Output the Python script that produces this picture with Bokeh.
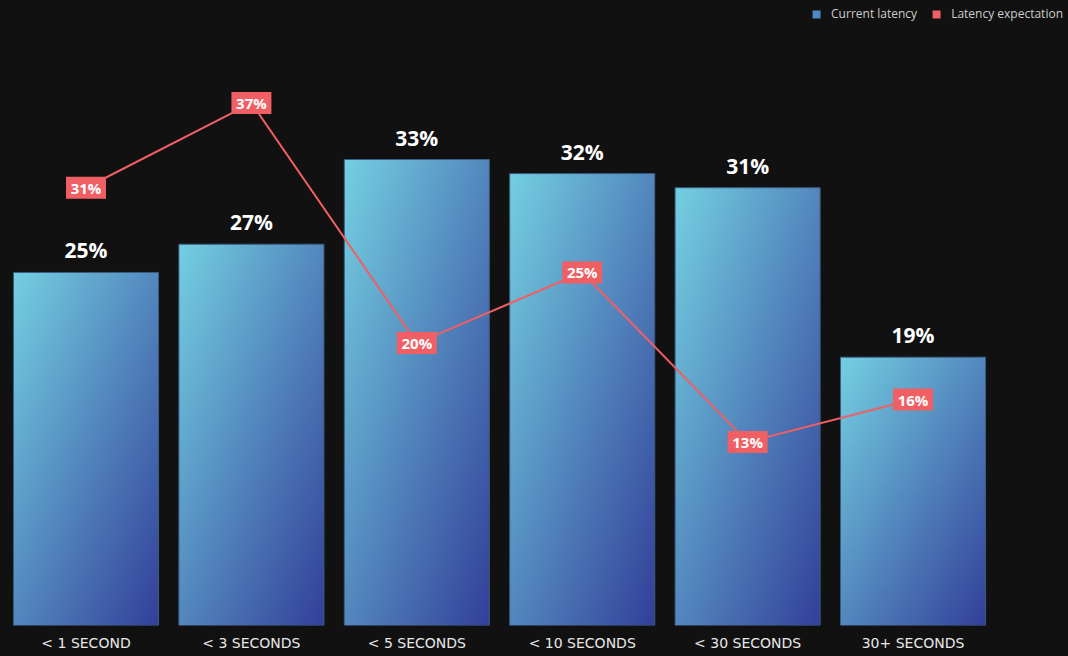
import numpy as np
from bokeh.plotting import figure
from bokeh.models import Range1d, FixedTicker, Legend, LegendItem
from bokeh.core.properties import value
from bokeh.embed import file_html
from bokeh.resources import INLINE

# ---- data ----
categories = ["< 1 SECOND", "< 3 SECONDS", "< 5 SECONDS", "< 10 SECONDS", "< 30 SECONDS", "30+ SECONDS"]
current_latency = [25, 27, 33, 32, 31, 19]
latency_expectation = [31, 37, 20, 25, 13, 16]
legend_labels = ["Current latency", "Latency expectation"]

# ---- style ----
BG = "#111111"
RED = "#ef5f63"
grad_start = (0x74, 0xD0, 0xE2)
grad_end = (0x33, 0x40, 0x9A)
FONT = value("Open Sans")

n = len(categories)
xs = list(range(n))
bar_w = 0.877

p = figure(width=1068, height=656, output_backend="svg", toolbar_location=None,
           x_range=Range1d(-0.517, 5.94), y_range=Range1d(0, 44.26),
           y_axis_location=None, min_border_left=0, min_border_right=0,
           min_border_top=0, min_border_bottom=31)
p.background_fill_color = BG
p.border_fill_color = BG
p.outline_line_color = None
p.xgrid.grid_line_color = None
p.ygrid.grid_line_color = None

# gradient image for bars (diagonal, top-left light -> bottom-right dark)
H, W = 240, 120
u = np.linspace(0, 1, W)[None, :]
v = np.linspace(1, 0, H)[:, None]
t = (u + v) / 2.0
img = np.empty((H, W), dtype=np.uint32)
view = img.view(dtype=np.uint8).reshape((H, W, 4))
for c in range(3):
    view[:, :, c] = np.clip(grad_start[c] + (grad_end[c] - grad_start[c]) * t, 0, 255).astype(np.uint8)
view[:, :, 3] = 255

p.image_rgba(image=[img] * n, x=[x - bar_w / 2 for x in xs], y=[0] * n,
             dw=[bar_w] * n, dh=current_latency)
p.quad(left=[x - bar_w / 2 for x in xs], right=[x + bar_w / 2 for x in xs],
       bottom=[0] * n, top=current_latency, fill_alpha=0,
       line_color="#3b5c82", line_width=1)

p.text(x=xs, y=current_latency, text=[f"{val}%" for val in current_latency],
       text_align="center", text_baseline="bottom", y_offset=-8,
       text_font=FONT, text_font_style="bold", text_font_size="21px", text_color="white")

# expectation line
p.line(xs, latency_expectation, line_color=RED, line_width=2)
p.rect(x=xs, y=latency_expectation, width=40, height=22,
       width_units="screen", height_units="screen",
       fill_color=RED, line_color=None)
p.text(x=xs, y=latency_expectation, text=[f"{val}%" for val in latency_expectation],
       text_align="center", text_baseline="middle",
       text_font=FONT, text_font_style="bold", text_font_size="15px", text_color="white")

# x axis
p.xaxis.ticker = FixedTicker(ticks=xs)
p.xaxis.major_label_overrides = {i: c for i, c in enumerate(categories)}
p.xaxis.axis_line_color = None
p.xaxis.major_tick_line_color = None
p.xaxis.minor_tick_line_color = None
p.xaxis.major_tick_out = 0
p.xaxis.major_tick_in = 0
p.xaxis.major_label_standoff = 9
p.xaxis.major_label_text_font = "DejaVu Sans"
p.xaxis.major_label_text_font_size = "14px"
p.xaxis.major_label_text_color = "#e8e8e8"

# legend (square swatches)
nan = float("nan")
r1 = p.quad(left=[nan], right=[nan], bottom=[nan], top=[nan],
            fill_color="#4f86c6", line_color=None)
r2 = p.quad(left=[nan], right=[nan], bottom=[nan], top=[nan],
            fill_color=RED, line_color=None)
legend = Legend(items=[LegendItem(label=legend_labels[0], renderers=[r1]),
                       LegendItem(label=legend_labels[1], renderers=[r2])],
                location="top_right", orientation="horizontal",
                margin=0, padding=5, spacing=14, label_standoff=10,
                glyph_width=10, glyph_height=10,
                background_fill_alpha=0, border_line_alpha=0,
                label_text_color="#cccccc", label_text_font="Open Sans",
                label_text_font_size="12px")
p.add_layout(legend)

html = file_html(p, INLINE)
html = html.replace("</head>", "<style>html,body{background-color:#111111;}</style></head>", 1)
open("out.html", "w").write(html)
